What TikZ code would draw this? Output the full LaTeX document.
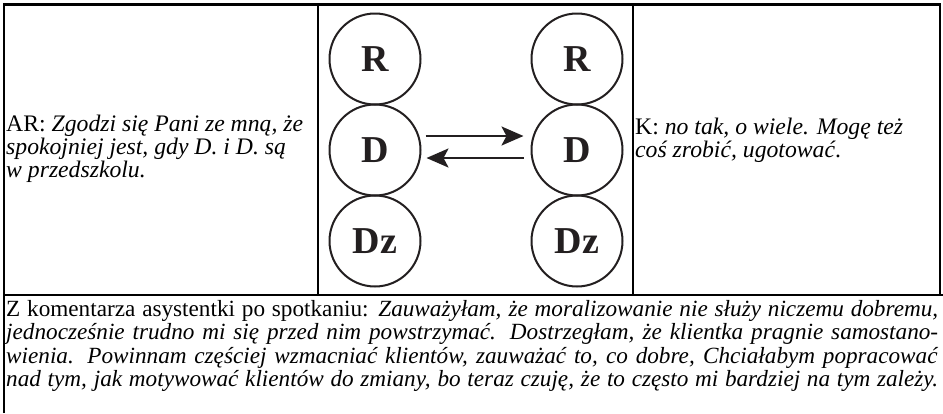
\documentclass[tikz,border=0pt]{standalone}
\usepackage{fontspec}
\setmainfont{Liberation Serif}
\usetikzlibrary{arrows.meta}
\definecolor{ink}{HTML}{231F20}
\begin{document}
\begin{tikzpicture}[x=1pt,y=-1pt,
  border/.style={line width=2.6pt, black},
  circ/.style={circle, draw=ink, text=ink, line width=2pt, minimum size=91pt, inner sep=0pt,
    font=\fontsize{38}{38}\selectfont\bfseries},
  txt/.style={inner sep=0pt, anchor=base west},
  arr/.style={draw=ink, line width=2.5pt, -{Stealth[length=22pt,width=19pt,inset=5pt]}}]
\useasboundingbox (0,0) rectangle (943,413);
% table lines
\draw[border] (4,413) -- (4,4.5) -- (940,4.5) -- (940,295);
\draw[border] (4,295) -- (943,295);
\draw[border] (318,4.5) -- (318,295);
\draw[border] (633,4.5) -- (633,295);
% circles
\node[circ] (Rl) at (375,59) {R};
\node[circ] (Dl) at (375,150) {D};
\node[circ] (Zl) at (375,241) {Dz};
\node[circ] (Rr) at (577,59) {R};
\node[circ] (Dr) at (577,150) {D};
\node[circ] (Zr) at (577,241) {Dz};
% arrows
\draw[arr] ([xshift=4pt,yshift=14pt]Dl.east) -- ([xshift=-7pt,yshift=14pt]Dr.west);
\draw[arr] ([xshift=-7pt,yshift=-8pt]Dr.west) -- ([xshift=5pt,yshift=-8pt]Dl.east);
% texts
\node[txt] (ar) at (6,131) {\parbox[t]{310pt}{\raggedright\fontsize{23.7}{23.3}\selectfont
  AR: \textit{Zgodzi się Pani ze mną, że}\\
  \textit{spokojniej jest, gdy D. i D. są}\\
  \textit{w przedszkolu.}}};
\node[txt] (k) at (635,134) {\parbox[t]{300pt}{\raggedright\fontsize{23.7}{23.3}\selectfont
  K: \textit{no tak, o wiele. Mogę też}\\
  \textit{coś zrobić, ugotować}.}};
\node[txt] (com) at (6,316) {\parbox[t]{932pt}{\fontsize{23.2}{23.6}\selectfont
  \makebox[932pt][s]{Z komentarza asystentki po spotkaniu: \textit{Zauważyłam, że moralizowanie nie służy niczemu dobremu,}}\\
  \makebox[932pt][s]{\textit{jednocześnie trudno mi się przed nim powstrzymać. Dostrzegłam, że klientka pragnie samostano-}}\\
  \makebox[932pt][s]{\textit{wienia. Powinnam częściej wzmacniać klientów, zauważać to, co dobre, Chciałabym popracować}}\\
  \makebox[932pt][s]{\textit{nad tym, jak motywować klientów do zmiany, bo teraz czuję, że to często mi bardziej na tym zależy.}}}};
\end{tikzpicture}
\end{document}
